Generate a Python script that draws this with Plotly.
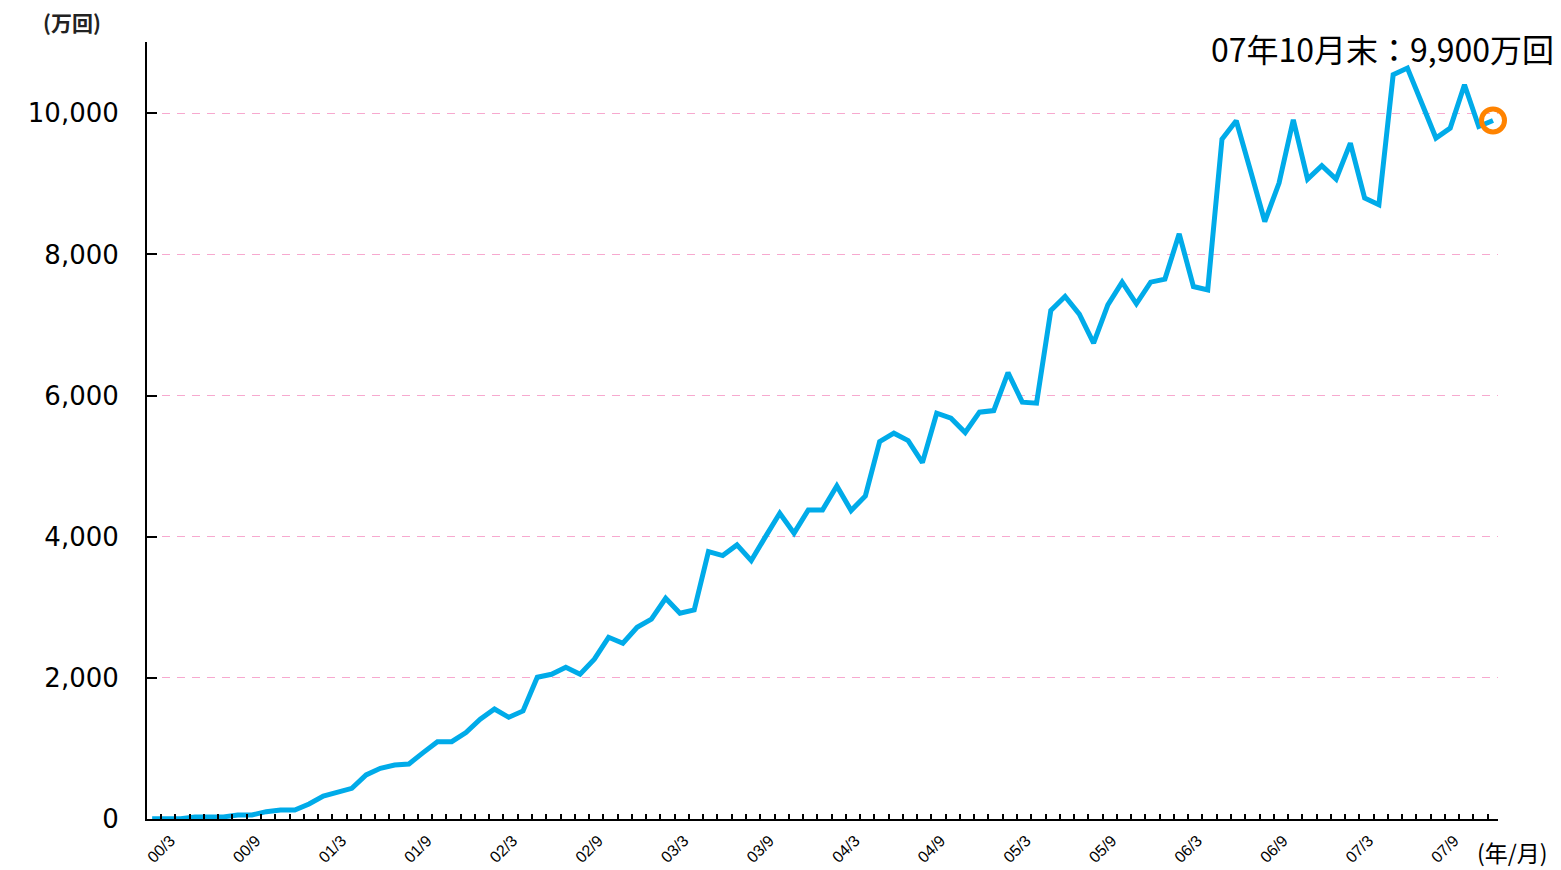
import plotly.graph_objects as go

# Monthly values (万回); last point = 07年10月末
values = [5, 5, 5, 30, 30, 30, 57, 57, 104, 128,
          128, 213, 326, 373, 435, 624, 718, 765, 780, 940,
          1096, 1096, 1224, 1413, 1559, 1441, 1531, 2008, 2051, 2150,
          2051, 2264, 2575, 2490, 2717, 2831, 3128, 2916, 2962, 3789,
          3732, 3884, 3661, 4001, 4333, 4050, 4380, 4380, 4720, 4370,
          4578, 5348, 5467, 5362, 5050, 5750, 5680, 5476, 5765, 5787,
          6326, 5906, 5892, 7205, 7403, 7154, 6743, 7286, 7607, 7300,
          7607, 7650, 8292, 7545, 7498, 9634, 9894, 9185, 8466, 9011,
          9908, 9067, 9256, 9067, 9578, 8798, 8703, 10546, 10641, 10145,
          9649, 9790, 10404, 9813, 9898]

tick_labels = ["00/3", "00/9", "01/3", "01/9", "02/3", "02/9", "03/3", "03/9",
               "04/3", "04/9", "05/3", "05/9", "06/3", "06/9", "07/3", "07/9"]
label_point_index = [2 + 6 * k for k in range(len(tick_labels))]
tick_offset = -0.37          # month tick marks sit slightly left of the data points
n_month_ticks = 94

y_ticks = [0, 2000, 4000, 6000, 8000, 10000]
annotation_text = "07年10月末：9,900万回"

x = list(range(len(values)))

# month tick marks with labels every 6 months
label_map = {p: t for p, t in zip(label_point_index, tick_labels)}
tickvals = [n + 1 + tick_offset for n in range(n_month_ticks)]
ticktext = [label_map.get(n + 1, "") for n in range(n_month_ticks)]

W, H = 1561, 870
OFF = 8          # page body margin
L, R, T, B = 138.5, 71, 34, 59
pw = W - L - R
ph = H - T - B


def px_x(px):
    return (px - OFF - L) / pw


def px_y(py):
    return (OFF + H - B - py) / ph


fig = go.Figure()
fig.add_trace(go.Scatter(
    x=x, y=values, mode="lines",
    line=dict(color="#00ABE9", width=5),
    hoverinfo="skip", showlegend=False, cliponaxis=False,
))
fig.add_trace(go.Scatter(
    x=[x[-1]], y=[values[-1]], mode="markers",
    marker=dict(symbol="circle-open", size=23, color="#FF8300",
                line=dict(width=5, color="#FF8300")),
    hoverinfo="skip", showlegend=False, cliponaxis=False,
))

fig.update_layout(
    width=W, height=H,
    margin=dict(l=L, r=R, t=T, b=B, autoexpand=False),
    plot_bgcolor="white", paper_bgcolor="white",
    font=dict(family="Noto Sans CJK JP", color="#000000"),
    xaxis=dict(
        range=[-0.36, 94.35], automargin=False,
        tickmode="array", tickvals=tickvals, ticktext=ticktext,
        tickangle=-45,
        ticks="inside", ticklen=5, tickwidth=1.5, tickcolor="#000000",
        tickfont=dict(family="Liberation Sans", size=16, color="#000000"),
        showline=True, linecolor="#000000", linewidth=2,
        showgrid=False, zeroline=False, fixedrange=True,
        ticklabelstandoff=4, ticklabelshift=-5,
    ),
    yaxis=dict(
        range=[0, 11010], automargin=False,
        tickmode="array", tickvals=y_ticks,
        ticktext=[f"{v:,}" for v in y_ticks],
        ticks="inside", ticklen=10, tickwidth=2, tickcolor="#000000",
        tickfont=dict(family="DejaVu Sans", size=26, color="#000000"),
        showline=True, linecolor="#000000", linewidth=2,
        showgrid=True, gridcolor="#F7A9CF", gridwidth=1, griddash="8px,7px",
        zeroline=False, fixedrange=True,
        ticklabelstandoff=21,
    ),
    annotations=[
        dict(x=x[-1], y=values[-1], xref="x", yref="y",
             text=annotation_text, showarrow=False,
             xanchor="right", yanchor="middle", xshift=63, yshift=72,
             font=dict(family="Noto Sans CJK JP", size=32, color="#000000")),
        dict(x=px_x(40), y=px_y(22), xref="paper", yref="paper",
             text="<b>(万回)</b>",
             showarrow=False, xanchor="left", yanchor="middle",
             font=dict(family="Noto Sans CJK JP", size=21, color="#222222")),
        dict(x=px_x(1475), y=px_y(852), xref="paper", yref="paper",
             text="(年/月)",
             showarrow=False, xanchor="left", yanchor="middle",
             font=dict(family="Noto Sans CJK JP", size=23, color="#000000")),
    ],
)

fig.write_html("out.html")
